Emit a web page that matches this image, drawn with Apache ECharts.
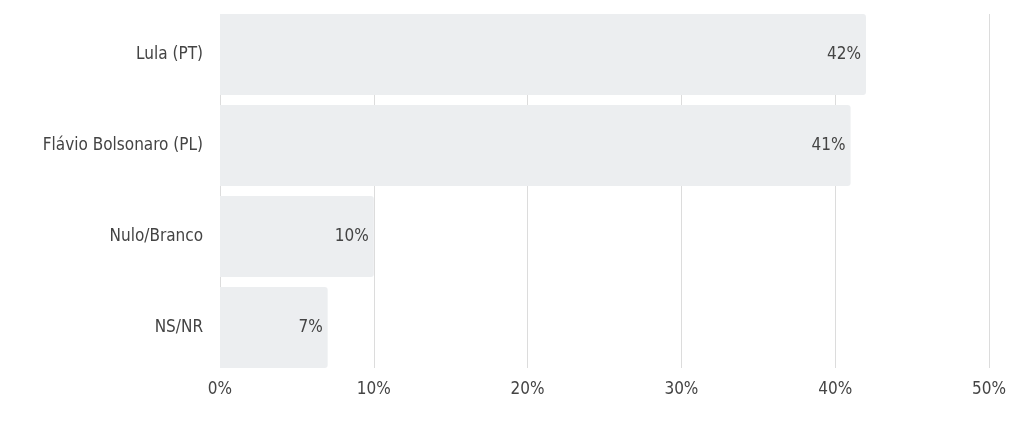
<!DOCTYPE html>
<html>
<head>
<meta charset="utf-8">
<script src="https://cdn.jsdelivr.net/npm/echarts@6/dist/echarts.min.js"></script>
<style>html,body{margin:0;padding:0;background:#fff}#c{width:1024px;height:445px}</style>
</head>
<body>
<div id="c"></div>
<script>
var categories = ['Lula (PT)', 'Flávio Bolsonaro (PL)', 'Nulo/Branco', 'NS/NR'];
var values = [42, 41, 10, 7];
var xTicks = [0, 10, 20, 30, 40, 50];

var FONT = "'Liberation Sans Narrow', 'DejaVu Sans Condensed', 'Roboto Condensed', 'DejaVu Sans', sans-serif";
var chart = echarts.init(document.getElementById('c'));
chart.setOption({
  animation: false,
  grid: [
    {left: 220, right: 35, top: 9, bottom: 72, containLabel: false},
    {left: 220, right: 35, top: 14, bottom: 77, containLabel: false}
  ],
  xAxis: [
    {gridIndex: 0, type: 'value', min: 0, max: 50, interval: 10,
     axisLine: {show: false}, axisTick: {show: false}, axisLabel: {show: false}, splitLine: {show: false}},
    {gridIndex: 1, type: 'value', min: xTicks[0], max: xTicks[xTicks.length-1], interval: 10,
     axisLine: {show: false}, axisTick: {show: false},
     axisLabel: {formatter: '{value}%', color: '#444', fontFamily: FONT, fontSize: 17, margin: 13},
     splitLine: {show: true, lineStyle: {color: '#dcdcdc', width: 1}}}
  ],
  yAxis: [
    {gridIndex: 0, type: 'category', data: categories, inverse: true,
     axisLine: {show: false}, axisTick: {show: false},
     axisLabel: {color: '#444', fontFamily: FONT, fontSize: 17, margin: 17}},
    {gridIndex: 1, type: 'category', data: categories, inverse: true, show: false}
  ],
  series: [{
    type: 'bar', xAxisIndex: 0, yAxisIndex: 0, data: values,
    barCategoryGap: '11%', z: 5,
    itemStyle: {color: '#eceef0', borderRadius: [0, 3, 3, 0]},
    label: {show: true, position: 'insideRight', distance: 5, formatter: '{c}%',
      color: '#444', fontFamily: FONT, fontSize: 17}
  }]
});
</script>
</body>
</html>
